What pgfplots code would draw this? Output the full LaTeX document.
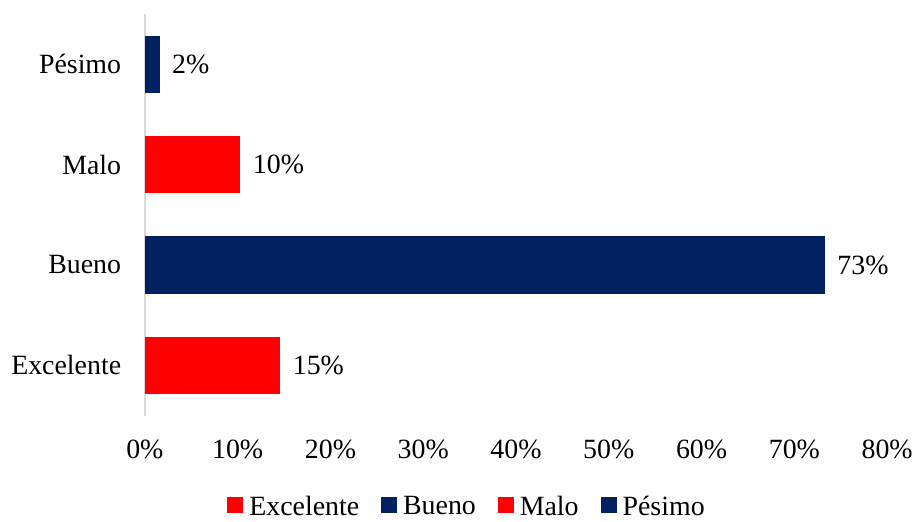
\documentclass[border=0pt]{standalone}
\usepackage{pgfplots}
\pgfplotsset{compat=1.18}
\usepackage{fontspec}
\setmainfont{Liberation Serif}
\definecolor{navy}{HTML}{002060}
\definecolor{myred}{HTML}{FF0000}
\begin{document}
\begin{tikzpicture}[x=1bp,y=1bp]
\path (0,0) rectangle (916,522);
\begin{axis}[
  at={(145bp,106bp)}, anchor=south west,
  scale only axis, width=743bp, height=402bp,
  xbar, bar width=0.57, bar shift=0pt,
  xmin=0, xmax=80, ymin=-0.5, ymax=3.5,
  xtick={0,10,...,80},
  xticklabel={\pgfmathprintnumber{\tick}\%},
  ytick={0,1,2,3},
  yticklabels={Excelente,Bueno,Malo,Pésimo},
  /pgf/number format/assume math mode=true,
  tick style={draw=none},
  axis lines*=left,
  x axis line style={draw=none},
  y axis line style={draw=black!15, line width=1.3bp},
  tick label style={font=\fontsize{28}{31}\selectfont},
  xticklabel style={yshift=-21bp},
  yticklabel style={xshift=-16bp},
  nodes near coords={\pgfmathprintnumber[fixed,precision=0]{\pgfplotspointmeta}\%},
  nodes near coords style={font=\fontsize{28}{31}\selectfont, black, xshift=9bp},
  point meta=x,
  legend style={draw=none, at={(0.434,-0.226)}, anchor=center,
    legend columns=4, font=\fontsize{28}{31}\selectfont, inner sep=0pt,
    nodes={inner sep=2bp},
    /tikz/every odd column/.append style={column sep=4bp},
    /tikz/every even column/.append style={column sep=20bp}},
  legend image code/.code={\fill[#1,draw=none] (0bp,-7bp) rectangle (16bp,9bp);},
]
\addplot[fill=myred, draw=none] coordinates {(14.6,0)};
\addplot[fill=navy, draw=none] coordinates {(73.3,1)};
\addplot[fill=myred, draw=none] coordinates {(10.3,2)};
\addplot[fill=navy, draw=none] coordinates {(1.6,3)};
\legend{Excelente,Bueno,Malo,Pésimo}
\end{axis}
\end{tikzpicture}
\end{document}
